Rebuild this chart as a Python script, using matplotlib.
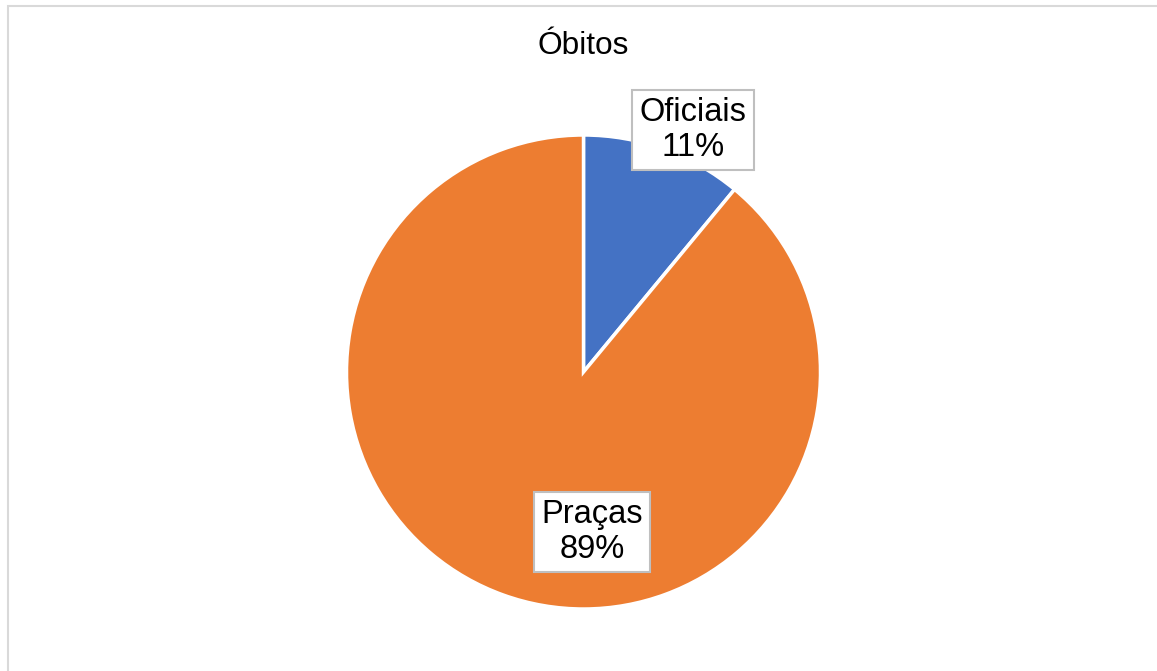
import matplotlib.pyplot as plt
from matplotlib.patches import Rectangle

plt.rcParams['font.family'] = ['Liberation Sans', 'DejaVu Sans']

# Óbitos por círculo hierárquico (%)
categorias = ['Oficiais', 'Praças']
valores = [11, 89]
cores = ['#4472c4', '#ed7d31']
titulo = 'Óbitos'

W, H = 1157, 671
fig = plt.figure(figsize=(W / 100, H / 100), dpi=100)
ax = fig.add_axes([0, 0, 1, 1])
ax.set_xlim(0, W)
ax.set_ylim(0, H)
ax.set_aspect('equal')
ax.axis('off')

# moldura da área do gráfico
ax.add_patch(Rectangle((7.5, -10), W + 20, H - 5.5 + 10, fill=False,
                       edgecolor='#d9d9d9', linewidth=1.5))

centro = (583.5, H - 372)
raio = 237
wedges, _ = ax.pie(valores, colors=cores, startangle=90, counterclock=False,
                   center=centro, radius=raio, frame=True,
                   wedgeprops=dict(edgecolor='white', linewidth=2.5))
ax.set_xlim(0, W)
ax.set_ylim(0, H)
ax.axis('off')

total = sum(valores)
posicoes = [(693, H - 130), (592, H - 532)]
for nome, v, (x, y) in zip(categorias, valores, posicoes):
    ax.text(x, y, f'{nome}\n{v / total * 100:.0f}%', ha='center', va='center',
            fontsize=23.5, linespacing=1.13,
            bbox=dict(boxstyle='square,pad=0.22', facecolor='white',
                      edgecolor='#bfbfbf', linewidth=1.5))

ax.text(583, H - 46, titulo, ha='center', va='center', fontsize=22.8)

fig.savefig('out.png', dpi=100)
